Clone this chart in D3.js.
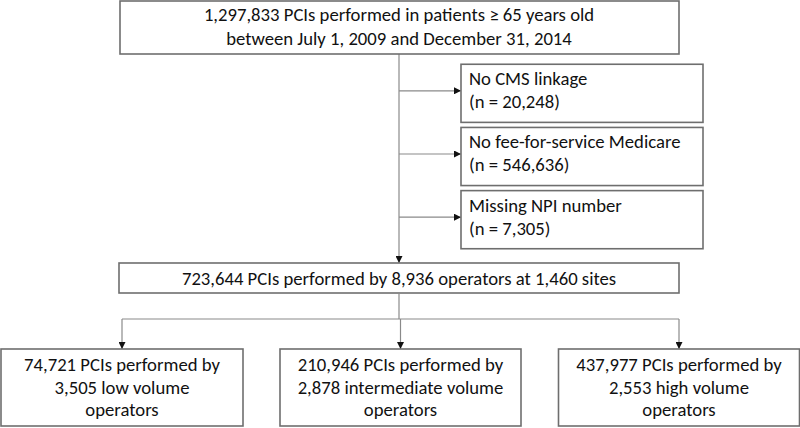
<!DOCTYPE html>
<html>
<head>
<meta charset="utf-8">
<script src="https://cdn.jsdelivr.net/npm/d3@7"></script>
<style>
html,body{margin:0;padding:0;background:#fff;}
svg{display:block;}
text{font-family:Carlito, Calibri, Lato, "Open Sans", sans-serif;fill:#111;}
</style>
</head>
<body>
<svg id="chart" width="800" height="428"></svg>
<script>
// ---- data ----
const startLines = ["1,297,833 PCIs performed in patients \u2265 65 years old",
                    "between July 1, 2009 and December 31, 2014"];
const exclusionLabels = ["No CMS linkage", "No fee-for-service Medicare", "Missing NPI number"];
const exclusionCounts = ["20,248", "546,636", "7,305"];
const cohortLine = "723,644 PCIs performed by 8,936 operators at 1,460 sites";
const groupPCIs = ["74,721", "210,946", "437,977"];
const groupOperators = ["3,505", "2,878", "2,553"];
const groupVolume = ["low", "intermediate", "high"];

// ---- layout ----
const svg = d3.select("#chart");
const boxStroke = "#6e6e6e", lineStroke = "#8a8a8a";
const fs = 18.7;

svg.append("defs").append("marker")
  .attr("id","arr").attr("viewBox","0 0 10 10").attr("refX",10).attr("refY",5)
  .attr("markerWidth",7).attr("markerHeight",7).attr("markerUnits","userSpaceOnUse")
  .attr("orient","auto")
  .append("path").attr("d","M0,0L10,5L0,10Z").attr("fill","#111");

function box(x, y, w, h) {
  svg.append("rect").attr("x",x).attr("y",y).attr("width",w).attr("height",h)
    .attr("fill","#fff").attr("stroke",boxStroke).attr("stroke-width",1.6);
}
function lines(lns, x, ys, anchor) {
  lns.forEach((t,i)=>{
    svg.append("text").attr("x",x).attr("y",ys[i]).attr("text-anchor",anchor||"middle")
      .attr("font-size",fs).text(t);
  });
}
function line(x1,y1,x2,y2,arrow){
  const l = svg.append("line").attr("x1",x1).attr("y1",y1).attr("x2",x2).attr("y2",y2)
    .attr("stroke",lineStroke).attr("stroke-width",1.2);
  if (arrow) l.attr("marker-end","url(#arr)");
}

const cx = 399;
// main spine
line(cx, 54, cx, 263, true);

// top box
box(120, 1, 559, 53);
lines(startLines, cx, [21, 45]);

// exclusion boxes
const exY = d3.scaleBand().domain(d3.range(exclusionLabels.length)).range([63, 250]).paddingInner(0.08).paddingOuter(0.02);
exclusionLabels.forEach((lab,i)=>{
  const y0 = exY(i), h = exY.bandwidth();
  line(cx, y0 + h/2 - 2.5, 461, y0 + h/2 - 2.5, true);
  box(461, y0, 242, h);
  lines([lab, "(n = " + exclusionCounts[i] + ")"], 469, [y0 + 21, y0 + 44], "start");
});

// cohort box
box(119, 263, 560, 30);
lines([cohortLine], cx, [285]);

// branch
const gx = d3.scalePoint().domain(d3.range(groupPCIs.length)).range([122, 679]);
line(cx, 293, cx, 319);
line(gx(0), 319, gx(2), 319);
const bw = [242, 241, 241];
groupPCIs.forEach((p,i)=>{
  const x = gx(i);
  line(x, 319, x, 349, true);
  const left = i===0 ? 1 : x - bw[i]/2;
  box(left, 349, bw[i], 77);
  lines([p + " PCIs performed by", groupOperators[i] + " " + groupVolume[i] + " volume", "operators"],
        left + bw[i]/2, [371, 393.5, 416]);
});
</script>
</body>
</html>
